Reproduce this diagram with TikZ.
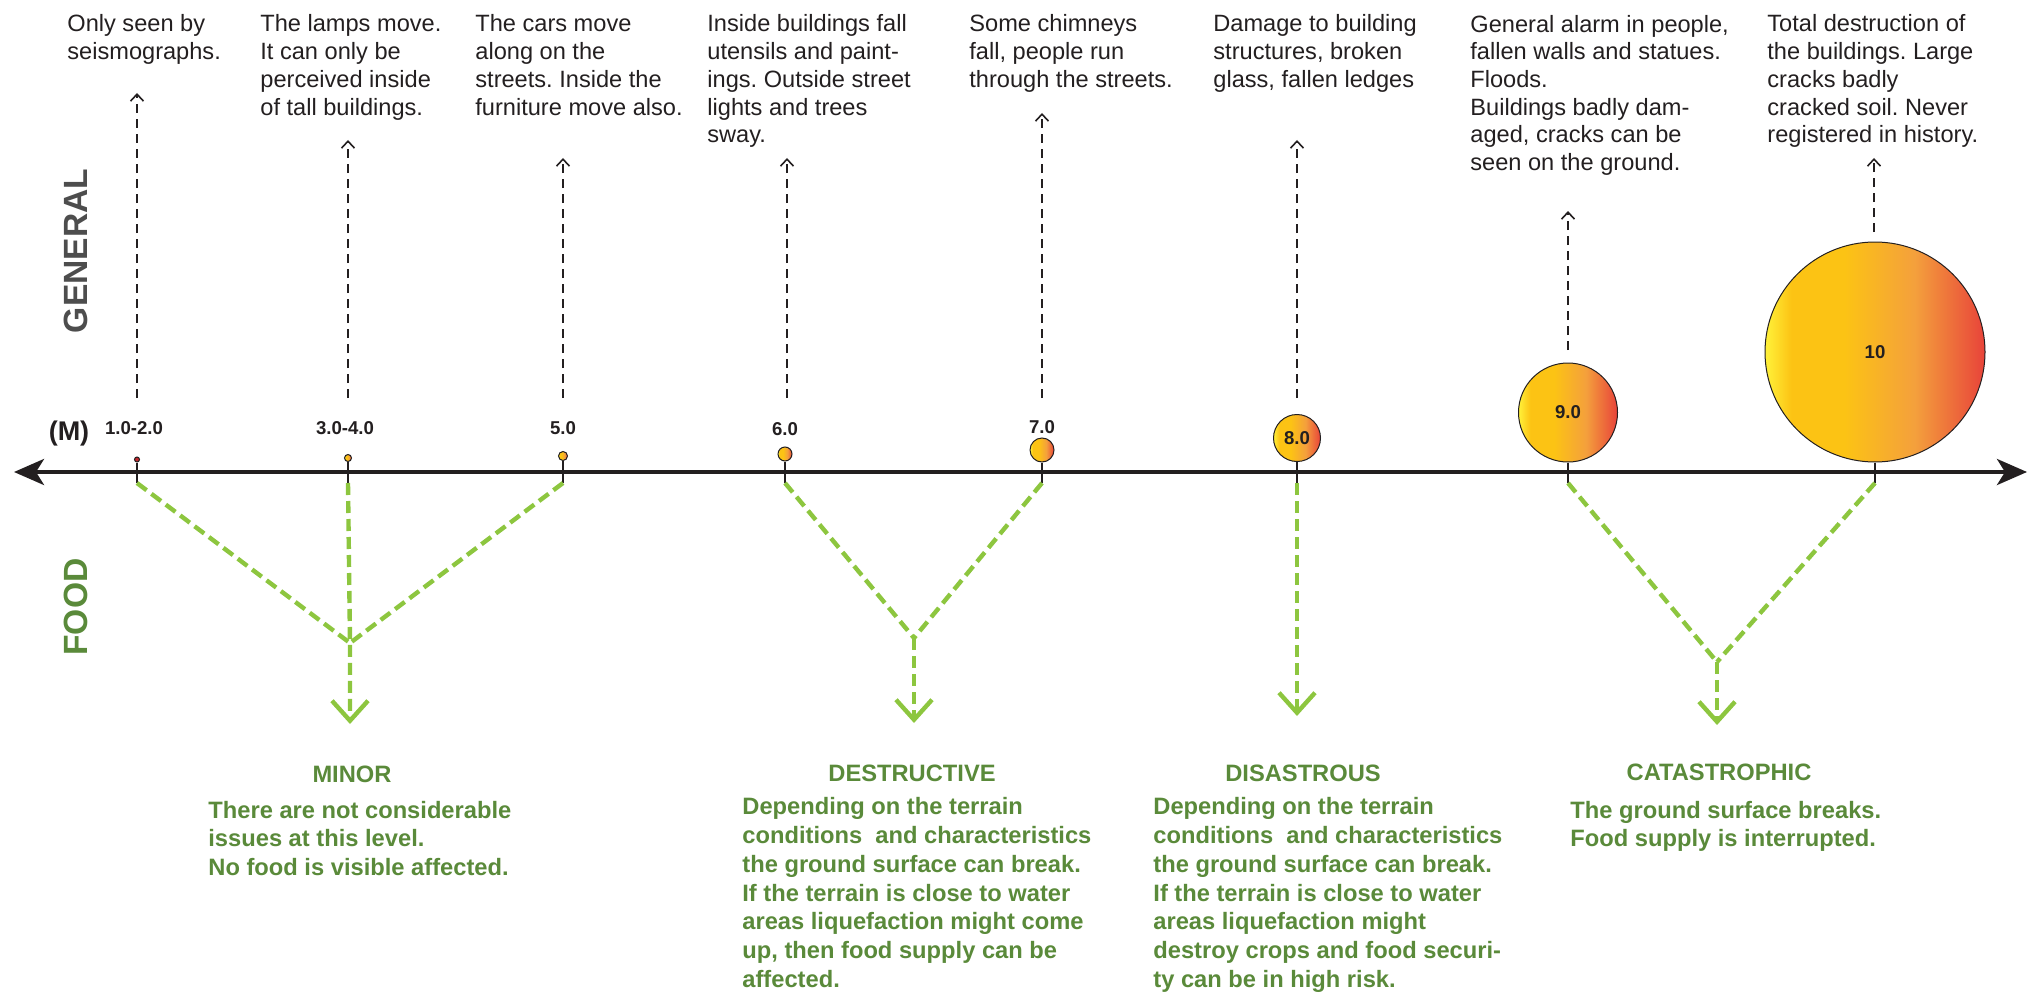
\documentclass[tikz,border=0pt]{standalone}
\usepackage{fontspec}
\setmainfont{Liberation Sans}
\usetikzlibrary{arrows.meta}
\frenchspacing

\definecolor{quakeyellow}{HTML}{FFF23A}
\definecolor{quakegold}{HTML}{FCC314}
\definecolor{quakeorange}{HTML}{F4A03C}
\definecolor{quakered}{HTML}{E8433A}
\definecolor{dotred}{HTML}{C1272D}
\definecolor{foodgreen}{HTML}{5A8A3A}
\definecolor{limegreen}{HTML}{8DC63F}
\definecolor{generalgray}{HTML}{4D4D4D}
\definecolor{inkblack}{HTML}{231F20}

\pgfdeclarehorizontalshading{quakeshade}{100bp}{color(0bp)=(quakeyellow); color(25bp)=(quakeyellow); color(31bp)=(quakegold); color(43bp)=(quakegold); color(59bp)=(quakeorange); color(75bp)=(quakered); color(100bp)=(quakered)}

\tikzset{
  bubble/.style={circle, draw=inkblack, line width=0.5pt, inner sep=0pt, text=inkblack,
    font=\bfseries\fontsize{9.3}{10}\selectfont},
  hotbubble/.style={bubble, shading=quakeshade},
  stem/.style={line width=0.8pt, inkblack},
  axisline/.style={line width=2pt, inkblack,
    {Stealth[length=15pt,width=13pt,inset=4pt]}-{Stealth[length=15pt,width=13pt,inset=4pt]}},
  maglabel/.style={anchor=base, inner sep=0pt, text=inkblack, font=\bfseries\fontsize{9.3}{10}\selectfont},
  % multi-line nodes: base = baseline of the last line
  gentext/.style={anchor=base west, align=left, inner sep=0pt, text=inkblack,
    font=\fontsize{11.8}{13.85}\selectfont},
  genarrow/.style={line width=0.8pt, inkblack, dash pattern=on 4.5pt off 3pt,
    -{Straight Barb[length=3.5pt,width=6.5pt]}},
  foodline/.style={line width=2.2pt, limegreen, dash pattern=on 6pt off 3pt},
  foodarrow/.style={foodline, -{Straight Barb[length=10pt,width=18pt]}},
  foodtitle/.style={anchor=base, inner sep=0pt, text=foodgreen,
    font=\bfseries\fontsize{11.85}{14.4}\selectfont},
  foodtext/.style={anchor=base west, align=left, inner sep=0pt, text=foodgreen,
    font=\bfseries\fontsize{11.85}{14.4}\selectfont},
  sidetitle/.style={rotate=90, inner sep=0pt, font=\bfseries\fontsize{16.8}{17}\selectfont}
}

\begin{document}
\begin{tikzpicture}[x=0.5pt, y=-0.5pt]
  \useasboundingbox (0,0) rectangle (2029,995);

  % Side titles
  \node[sidetitle, text=generalgray] (general) at (76,251) {GENERAL};
  \node[sidetitle, text=foodgreen] (food) at (76,607) {FOOD};
  \node[maglabel, font=\bfseries\fontsize{13.5}{14}\selectfont] (munit) at (69,440) {(M)};

  % Magnitude axis
  \coordinate (west) at (14,472);
  \coordinate (east) at (2027,472);
  \draw[axisline] (west) -- (east);

  % Bubbles on the axis
  \node[bubble, fill=dotred, minimum size=2.5pt] (c1) at (137,459.5) {};
  \node[hotbubble, minimum size=3.5pt] (c2) at (348,458) {};
  \node[hotbubble, minimum size=4.5pt] (c3) at (563,456) {};
  \node[hotbubble, minimum size=7pt] (c4) at (785,454) {};
  \node[hotbubble, minimum size=12pt] (c5) at (1042,450) {};
  \node[hotbubble, minimum size=23.5pt] (c6) at (1297,438) {8.0};
  \node[hotbubble, minimum size=49.5pt] (c7) at (1568,412.5) {9.0};
  \node[hotbubble, minimum size=110pt] (c8) at (1875,352) {10};

  \coordinate (s1) at (137,483);
  \coordinate (s2) at (348,483);
  \coordinate (s3) at (563,483);
  \coordinate (s4) at (785,483);
  \coordinate (s5) at (1042,483);
  \coordinate (s6) at (1297,483);
  \coordinate (s7) at (1568,483);
  \coordinate (s8) at (1875,483);
  \draw[stem] (c1.south) -- (s1);
  \draw[stem] (c2.south) -- (s2);
  \draw[stem] (c3.south) -- (s3);
  \draw[stem] (c4.south) -- (s4);
  \draw[stem] (c5.south) -- (s5);
  \draw[stem] (c6.south) -- (s6);
  \draw[stem] (c7.south) -- (s7);
  \draw[stem] (c8.south) -- (s8);

  \node[maglabel] (l1) at (134,434) {1.0-2.0};
  \node[maglabel] (l2) at (345,434) {3.0-4.0};
  \node[maglabel] (l3) at (563,434) {5.0};
  \node[maglabel] (l4) at (785,435) {6.0};
  \node[maglabel] (l5) at (1042,433) {7.0};

  % General effects
  \node[gentext] (g1) at (67,59.7) {Only seen by\\seismographs.};
  \node[gentext] (g2) at (260,115.1) {The lamps move.\\It can only be\\perceived inside\\of tall buildings.};
  \node[gentext] (g3) at (475,115.1) {The cars move\\along on the\\streets. Inside the\\furniture move also.};
  \node[gentext] (g4) at (707,142.8) {Inside buildings fall\\utensils and paint-\\ings. Outside street\\lights and trees\\sway.};
  \node[gentext] (g5) at (969,87.4) {Some chimneys\\fall, people run\\through the streets.};
  \node[gentext] (g6) at (1213,87.4) {Damage to building\\structures, broken\\glass, fallen ledges};
  \node[gentext] (g7) at (1470,170.5) {General alarm in people,\\fallen walls and statues.\\Floods.\\Buildings badly dam-\\aged, cracks can be\\seen on the ground.};
  \node[gentext] (g8) at (1767,142.8) {Total destruction of\\the buildings. Large\\cracks badly\\cracked soil. Never\\registered in history.};

  \coordinate (b1) at (137,398);  \coordinate (u1) at (137,93);
  \coordinate (b2) at (348,398);  \coordinate (u2) at (348,140);
  \coordinate (b3) at (563,398);  \coordinate (u3) at (563,158);
  \coordinate (b4) at (787,398);  \coordinate (u4) at (787,158);
  \coordinate (b5) at (1042,398); \coordinate (u5) at (1042,113);
  \coordinate (b6) at (1297,398); \coordinate (u6) at (1297,140);
  \coordinate (b7) at (1568,350); \coordinate (u7) at (1568,211);
  \coordinate (b8) at (1874,232); \coordinate (u8) at (1874,158);
  \draw[genarrow] (b1) -- (u1);
  \draw[genarrow] (b2) -- (u2);
  \draw[genarrow] (b3) -- (u3);
  \draw[genarrow] (b4) -- (u4);
  \draw[genarrow] (b5) -- (u5);
  \draw[genarrow] (b6) -- (u6);
  \draw[genarrow] (b7) -- (u7);
  \draw[genarrow] (b8) -- (u8);

  % Food effects
  \coordinate (minorjoin) at (350,643);
  \coordinate (minortip) at (350,724);
  \coordinate (destructivejoin) at (914,638);
  \coordinate (destructivetip) at (914,723);
  \coordinate (disastroustip) at (1297,716);
  \coordinate (catastrophicjoin) at (1717,662);
  \coordinate (catastrophictip) at (1717,725);

  \draw[foodline] (s1) -- (minorjoin);
  \draw[foodline] (s3) -- (minorjoin);
  \draw[foodarrow] (s2) -- (minorjoin) -- (minortip);
  \draw[foodline] (s4) -- (destructivejoin);
  \draw[foodline] (s5) -- (destructivejoin);
  \draw[foodarrow] (destructivejoin) -- (destructivetip);
  \draw[foodarrow] (s6) -- (disastroustip);
  \draw[foodline] (s7) -- (catastrophicjoin);
  \draw[foodline] (s8) -- (catastrophicjoin);
  \draw[foodarrow] (catastrophicjoin) -- (catastrophictip);

  \node[foodtitle] (minor) at (352,782) {MINOR};
  \node[foodtext] (minortext) at (208,875.6) {There are not considerable\\issues at this level.\\No food is visible affected.};
  \node[foodtitle] (destructive) at (912,781) {DESTRUCTIVE};
  \node[foodtext] (destructivetext) at (742,987.5) {Depending on the terrain\\conditions~ and characteristics\\the ground surface can break.\\If the terrain is close to water\\areas liquefaction might come\\up, then food supply can be\\affected.};
  \node[foodtitle] (disastrous) at (1303,781) {DISASTROUS};
  \node[foodtext] (disastroustext) at (1153,987.5) {Depending on the terrain\\conditions~ and characteristics\\the ground surface can break.\\If the terrain is close to water\\areas liquefaction might\\destroy crops and food securi-\\ty can be in high risk.};
  \node[foodtitle] (catastrophic) at (1719,780) {CATASTROPHIC};
  \node[foodtext] (catastrophictext) at (1570,846.8) {The ground surface breaks.\\Food supply is interrupted.};
\end{tikzpicture}
\end{document}
